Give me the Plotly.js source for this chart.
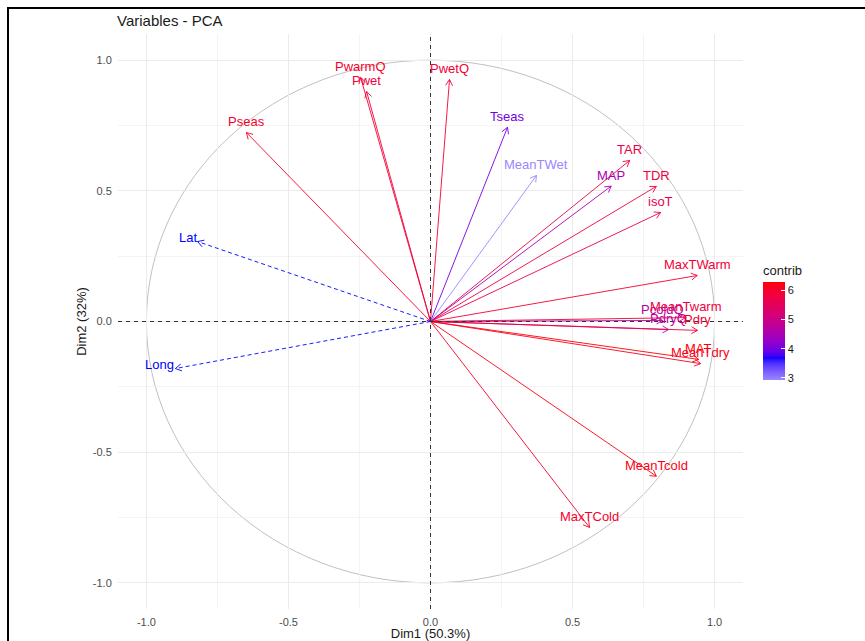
<!DOCTYPE html>
<html><head><meta charset="utf-8">
<script src="https://cdn.plot.ly/plotly-3.0.1.min.js"></script>
<style>
html,body{margin:0;padding:0;background:#fff;overflow:hidden;}
#chart{width:865px;height:641px;}
#frame{position:fixed;left:7px;top:7px;right:0;bottom:0;border-top:2px solid #000;border-left:2px solid #000;pointer-events:none;}
</style>
</head><body><div id="chart"></div><div id="frame"></div>
<script>
// ---- data ----
const varNames = ["PwarmQ","Pwet","PwetQ","Pseas","Tseas","MeanTWet","TAR","MAP","TDR","isoT","MaxTWarm","PcoldQ","MeanTwarm","PdryQ","Pdry","MAT","MeanTdry","MeanTcold","MaxTCold"];
const dim1 = [-0.246,-0.225,0.067,-0.648,0.271,0.373,0.701,0.636,0.795,0.810,0.939,0.817,0.898,0.838,0.940,0.944,0.951,0.795,0.560];
const dim2 = [0.934,0.880,0.926,0.723,0.743,0.559,0.616,0.518,0.517,0.417,0.176,0.004,0.015,-0.031,-0.034,-0.145,-0.161,-0.592,-0.788];
const contrib = [6.0,5.8,5.9,6.0,4.0,2.93,5.7,4.5,5.8,5.6,5.9,4.6,5.8,4.8,5.9,6.28,6.1,6.2,6.0];
const supNames = ["Lat","Long"];
const supDim1 = [-0.820,-0.898];
const supDim2 = [0.306,-0.180];
const tickValues = [-1,-0.5,0,0.5,1];
const tickLabels = ["-1.0","-0.5","0.0","0.5","1.0"];
const legendTicks = [3,4,5,6];

// ---- layout geometry ----
const W=865,H=641;
const M={l:118,r:122,t:34,b:32};
const xRange=[-1.1,1.1], yRange=[-1.1,1.1];
const pxX=(W-M.l-M.r)/(xRange[1]-xRange[0]);
const pxY=(H-M.t-M.b)/(yRange[1]-yRange[0]);

const cmin=Math.min(...contrib), cmax=Math.max(...contrib);

// Lab interpolation (as ggplot does)
function hex2rgb(h){return [parseInt(h.slice(1,3),16),parseInt(h.slice(3,5),16),parseInt(h.slice(5,7),16)];}
function toLin(c){c/=255;return c<=0.04045?c/12.92:Math.pow((c+0.055)/1.055,2.4);}
function fromLin(c){c=c<=0.0031308?12.92*c:1.055*Math.pow(c,1/2.4)-0.055;return Math.round(Math.max(0,Math.min(1,c))*255);}
const WP=[0.95047,1,1.08883];
function f(t){return t>0.008856?Math.cbrt(t):(7.787*t+16/116);}
function fi(t){return t>0.206893?t*t*t:(t-16/116)/7.787;}
function rgb2lab(rgb){const [r,g,b]=rgb.map(toLin);
  const X=(0.4124*r+0.3576*g+0.1805*b)/WP[0],Y=(0.2126*r+0.7152*g+0.0722*b)/WP[1],Z=(0.0193*r+0.1192*g+0.9505*b)/WP[2];
  return [116*f(Y)-16,500*(f(X)-f(Y)),200*(f(Y)-f(Z))];}
function lab2rgb(lab){const fy=(lab[0]+16)/116,fx=fy+lab[1]/500,fz=fy-lab[2]/200;
  const X=fi(fx)*WP[0],Y=fi(fy)*WP[1],Z=fi(fz)*WP[2];
  const r=3.2406*X-1.5372*Y-0.4986*Z,g=-0.9689*X+1.8758*Y+0.0415*Z,b=0.0557*X-0.2040*Y+1.0570*Z;
  return [fromLin(r),fromLin(g),fromLin(b)];}
const anchors=[[0,'#9a86ff'],[0.22,'#0000ff'],[1,'#ff0000']];
function colorAt(t){
  t=Math.max(0,Math.min(1,t));
  for(let i=0;i<anchors.length-1;i++){
    const [a,ca]=anchors[i],[b,cb]=anchors[i+1];
    if(t>=a&&t<=b){const k=(t-a)/(b-a),A=rgb2lab(hex2rgb(ca)),B=rgb2lab(hex2rgb(cb));
      return 'rgb('+lab2rgb(A.map((v,j)=>v+(B[j]-v)*k)).join(',')+')';}
  }
  return anchors[anchors.length-1][1];
}
const colorscale=[];
for(let i=0;i<=40;i++){colorscale.push([i/40,colorAt(i/40)]);}
function colorFor(v){return colorAt((v-cmin)/(cmax-cmin));}

function arrowTraces(tx,ty,color,dash){
  const th=Math.atan2(ty*pxY,tx*pxX), L=7, a=Math.PI/6;
  const b1x=tx+L*Math.cos(th+Math.PI-a)/pxX, b1y=ty+L*Math.sin(th+Math.PI-a)/pxY;
  const b2x=tx+L*Math.cos(th+Math.PI+a)/pxX, b2y=ty+L*Math.sin(th+Math.PI+a)/pxY;
  return [
    {type:'scatter',mode:'lines',x:[0,tx],y:[0,ty],line:{color:color,width:0.9,dash:dash||'solid'},hoverinfo:'skip',showlegend:false},
    {type:'scatter',mode:'lines',x:[b1x,tx,b2x],y:[b1y,ty,b2y],line:{color:color,width:0.9},hoverinfo:'skip',showlegend:false}
  ];
}
const traces=[];
const annotations=[];
const lblFont='Liberation Sans, Arial, sans-serif';
varNames.forEach((n,i)=>{
  const c=colorFor(contrib[i]);
  traces.push(...arrowTraces(dim1[i],dim2[i],c));
  annotations.push({x:dim1[i],y:dim2[i],xref:'x',yref:'y',text:n,showarrow:false,yshift:11,
    xanchor:'center',yanchor:'middle',font:{family:lblFont,size:13,color:c}});
});
supNames.forEach((n,i)=>{
  traces.push(...arrowTraces(supDim1[i],supDim2[i],'#0000ff','4px,3px'));
  annotations.push({x:supDim1[i],y:supDim2[i],xref:'x',yref:'y',text:n,showarrow:false,yshift:4,xshift:1,
    xanchor:'right',yanchor:'middle',font:{family:lblFont,size:13,color:'#0000ff'}});
});
// colorbar carrier
traces.push({type:'scatter',mode:'markers',x:dim1,y:dim2,hoverinfo:'skip',showlegend:false,
  marker:{size:1,opacity:0,color:contrib,cmin:cmin,cmax:cmax,colorscale:colorscale,showscale:true,
    colorbar:{x:(763-M.l)/(W-M.l-M.r),xanchor:'left',xpad:0,ypad:0,
      y:(H-M.b-321)/(H-M.t-M.b),yanchor:'middle',len:118,lenmode:'pixels',thickness:22,thicknessmode:'pixels',
      outlinewidth:0,tickmode:'array',tickvals:legendTicks,ticktext:legendTicks.map(String),
      ticks:'inside',ticklen:4,tickcolor:'#ffffff',tickwidth:1,
      tickfont:{family:lblFont,size:11,color:'#1a1a1a'},
      title:{text:'contrib',side:'top',font:{family:lblFont,size:13,color:'#1a1a1a'}}}}});

const minorVals=tickValues.slice(0,-1).map((v,i)=>(v+tickValues[i+1])/2);
function axis(title){
  return {range:null,tickmode:'array',tickvals:tickValues,ticktext:tickLabels,
    showgrid:true,gridcolor:'#ebebeb',gridwidth:1,zeroline:false,showline:false,
    ticks:'outside',ticklen:3,tickcolor:'rgba(0,0,0,0)',
    tickfont:{family:lblFont,size:11,color:'#4d4d4d'},
    minor:{tickmode:'array',tickvals:minorVals,showgrid:true,gridcolor:'#f0f0f0',gridwidth:0.7,ticks:''},
    title:{text:title,font:{family:lblFont,size:13,color:'#1a1a1a'},standoff:3}};
}
const xa=axis('Dim1 (50.3%)'); xa.range=xRange;
const ya=axis('Dim2 (32%)'); ya.range=yRange;

const layout={width:W,height:H,margin:M,paper_bgcolor:'#fff',plot_bgcolor:'#fff',
  title:{text:'Variables - PCA',x:117/W,xanchor:'left',xref:'container',y:1-21/H,yanchor:'middle',yref:'container',
    font:{family:lblFont,size:15,color:'#1a1a1a'}},
  xaxis:xa,yaxis:ya,showlegend:false,annotations:annotations,
  shapes:[
    {type:'circle',xref:'x',yref:'y',x0:-1,x1:1,y0:-1,y1:1,line:{color:'#b0b0b0',width:0.8},layer:'below'},
    {type:'line',xref:'x',yref:'paper',x0:0,x1:0,y0:0,y1:1,line:{color:'#333',width:1,dash:'4px,4px'}},
    {type:'line',xref:'paper',yref:'y',x0:0,x1:1,y0:0,y1:0,line:{color:'#333',width:1,dash:'4px,4px'}}
  ]};
Plotly.newPlot('chart',traces,layout,{displayModeBar:false,staticPlot:true});
</script></body></html>
